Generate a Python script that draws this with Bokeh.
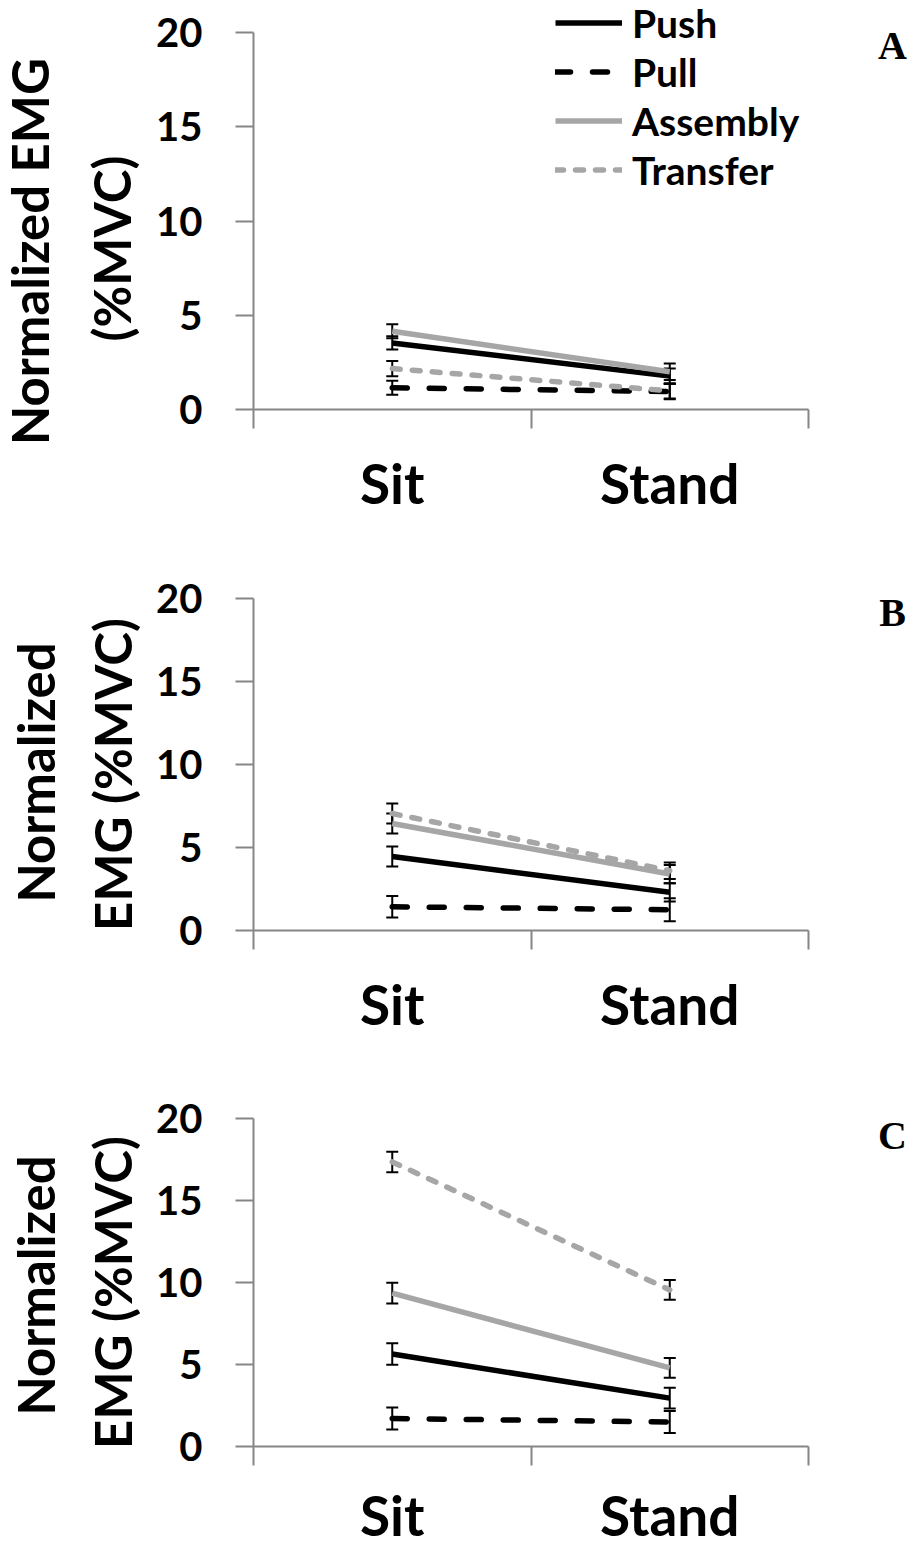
import numpy as np
from bokeh.plotting import figure
from bokeh.models import (Range1d, FixedTicker, ColumnDataSource, Whisker, TeeHead,
                          Legend, LegendItem, Label)
from bokeh.layouts import column, row
from bokeh.embed import file_html
from bokeh.resources import INLINE

# ---------------- data ----------------
conditions = ["Sit", "Stand"]
series_names = ["Push", "Pull", "Assembly", "Transfer"]
y_ticks = [0, 5, 10, 15, 20]

# Panel A
A_push = [3.53, 1.77]
A_push_err = [0.35, 0.40]
A_pull = [1.15, 0.95]
A_pull_err = [0.37, 0.40]
A_assembly = [4.15, 2.00]
A_assembly_err = [0.37, 0.44]
A_transfer = [2.17, 0.99]
A_transfer_err = [0.40, 0.40]

# Panel B
B_push = [4.46, 2.30]
B_push_err = [0.60, 0.55]
B_pull = [1.43, 1.25]
B_pull_err = [0.65, 0.70]
B_assembly = [6.45, 3.40]
B_assembly_err = [0.60, 0.55]
B_transfer = [7.05, 3.60]
B_transfer_err = [0.60, 0.50]

# Panel C
C_push = [5.64, 2.95]
C_push_err = [0.65, 0.63]
C_pull = [1.71, 1.49]
C_pull_err = [0.67, 0.67]
C_assembly = [9.35, 4.79]
C_assembly_err = [0.63, 0.60]
C_transfer = [17.35, 9.55]
C_transfer_err = [0.63, 0.60]

# ---------------- styles ----------------
BLACK = "#000000"
GRAY = "#A6A6A6"
AXIS = "#868686"
FONT = "Lato"
styles = {
    "Push": dict(color=BLACK, dash="solid", width=5.5, cap="butt"),
    "Pull": dict(color=BLACK, dash="15 22", width=5.5, cap="round"),
    "Assembly": dict(color=GRAY, dash="solid", width=5.5, cap="butt"),
    "Transfer": dict(color=GRAY, dash="8 12", width=5.5, cap="round"),
}

W = 917
LAB_W = 150        # width of the strip holding the y-axis title
AX_LEFT = 253      # canvas x of y axis
AX_RIGHT = 808     # canvas x of right end of x axis
Y_MAX = 20


def make_title_strip(lines, fig_top, fig_bottom):
    h = fig_bottom - fig_top
    s = figure(width=LAB_W, height=h, frame_width=LAB_W, frame_height=h,
               min_border=0, x_range=Range1d(0, LAB_W), y_range=Range1d(0, h),
               x_axis_location=None, y_axis_location=None,
               output_backend="svg", toolbar_location=None)
    s.outline_line_color = None
    s.grid.visible = False
    s.background_fill_color = "white"
    s.border_fill_color = "white"
    for txt, bx, cy in lines:
        s.add_layout(Label(x=bx, y=fig_bottom - cy, x_units="screen", y_units="screen",
                           text=txt, angle=np.pi / 2, text_align="center",
                           text_baseline="alphabetic", text_font=FONT,
                           text_font_style="bold", text_font_size="51px",
                           text_color="black"))
    return s


def make_panel(data, letter, fig_top, y20_px, y0_px, fig_bottom, letter_y, legend=False,
               cat_standoff=21):
    frame_h = y0_px - fig_top
    frame_w = W - AX_LEFT
    px_per_unit = (y0_px - y20_px) / Y_MAX
    x_per_px = len(conditions) / (AX_RIGHT - AX_LEFT)
    p = figure(width=W - LAB_W, height=fig_bottom - fig_top,
               frame_width=frame_w, frame_height=frame_h,
               min_border_left=AX_LEFT - LAB_W, min_border_right=0,
               min_border_top=0, min_border_bottom=fig_bottom - y0_px,
               x_range=Range1d(0, frame_w * x_per_px),
               y_range=Range1d(0, frame_h / px_per_unit),
               output_backend="svg", toolbar_location=None)
    p.outline_line_color = None
    p.xgrid.visible = False
    p.ygrid.visible = False
    p.background_fill_color = "white"
    p.border_fill_color = "white"

    x = np.arange(len(conditions)) + 0.5

    # y axis
    ya = p.yaxis[0]
    ya.bounds = (0, Y_MAX)
    ya.ticker = FixedTicker(ticks=y_ticks)
    ya.axis_line_color = AXIS
    ya.axis_line_width = 2
    ya.major_tick_line_color = AXIS
    ya.major_tick_line_width = 2
    ya.major_tick_out = 18
    ya.major_tick_in = 0
    ya.minor_tick_line_color = None
    ya.major_label_standoff = 33
    ya.major_label_text_font = FONT
    ya.major_label_text_font_style = "bold"
    ya.major_label_text_font_size = "40px"
    ya.major_label_text_color = "black"

    # x axis: boundary ticks as minor ticks, labels at category centres
    xa = p.xaxis[0]
    xa.bounds = (0, len(conditions))
    xa.ticker = FixedTicker(ticks=list(x), minor_ticks=list(range(len(conditions) + 1)))
    xa.major_label_overrides = {float(xi): c for xi, c in zip(x, conditions)}
    xa.axis_line_color = AXIS
    xa.axis_line_width = 2
    xa.major_tick_line_color = None
    xa.major_tick_out = 0
    xa.major_tick_in = 0
    xa.minor_tick_line_color = AXIS
    xa.minor_tick_line_width = 2
    xa.minor_tick_out = 19
    xa.minor_tick_in = 0
    xa.major_label_standoff = cat_standoff
    xa.major_label_text_font = FONT
    xa.major_label_text_font_style = "bold"
    xa.major_label_text_font_size = "55px"
    xa.major_label_text_color = "black"

    renderers = {}
    for name in series_names:
        vals, errs = data[name]
        st = styles[name]
        r = p.line(x, vals, line_color=st["color"], line_width=st["width"],
                   line_dash=st["dash"], line_cap=st["cap"])
        renderers[name] = r
    for name in series_names:
        vals, errs = data[name]
        src = ColumnDataSource(dict(base=x,
                                    upper=[v + e for v, e in zip(vals, errs)],
                                    lower=[v - e for v, e in zip(vals, errs)]))
        wh = Whisker(base="base", upper="upper", lower="lower", source=src,
                     dimension="height", line_color="black", line_width=2,
                     upper_head=TeeHead(size=12, line_color="black", line_width=2),
                     lower_head=TeeHead(size=12, line_color="black", line_width=2))
        p.add_layout(wh)

    # panel letter
    p.add_layout(Label(x=892 - AX_LEFT, y=y0_px - letter_y, x_units="screen", y_units="screen",
                       text=letter, text_align="center", text_baseline="middle",
                       text_font="Liberation Serif", text_font_style="bold",
                       text_font_size="40px", text_color="black"))

    if legend:
        items = [LegendItem(label=n, renderers=[renderers[n]]) for n in series_names]
        lg = Legend(items=items, location=(555 - AX_LEFT, y0_px - 194),
                    glyph_width=67, glyph_height=49, label_height=49, spacing=0,
                    padding=0, margin=0, label_standoff=10,
                    label_text_font=FONT, label_text_font_style="bold",
                    label_text_font_size="39px", label_text_color="black",
                    label_text_baseline="middle",
                    background_fill_alpha=0, border_line_alpha=0)
        p.add_layout(lg)
    return p


dataA = {"Push": (A_push, A_push_err), "Pull": (A_pull, A_pull_err),
         "Assembly": (A_assembly, A_assembly_err), "Transfer": (A_transfer, A_transfer_err)}
dataB = {"Push": (B_push, B_push_err), "Pull": (B_pull, B_pull_err),
         "Assembly": (B_assembly, B_assembly_err), "Transfer": (B_transfer, B_transfer_err)}
dataC = {"Push": (C_push, C_push_err), "Pull": (C_pull, C_pull_err),
         "Assembly": (C_assembly, C_assembly_err), "Transfer": (C_transfer, C_transfer_err)}

# (text, anchor x in the strip, centre y on the page)
tA = make_title_strip([("Normalized EMG", 29, 251), ("(%MVC)", 111, 248)], 0, 540)
tB = make_title_strip([("Normalized", 35, 772), ("EMG (%MVC)", 112, 774)], 540, 1060)
tC = make_title_strip([("Normalized", 35, 1285), ("EMG (%MVC)", 112, 1292)], 1060, 1549)

pA = make_panel(dataA, "A", 0, 32, 409, 540, 45, legend=True)
pB = make_panel(dataB, "B", 540, 598, 930, 1060, 612)
pC = make_panel(dataC, "C", 1060, 1118, 1446, 1549, 1135, cat_standoff=16)

layout = column(row(tA, pA, spacing=0), row(tB, pB, spacing=0), row(tC, pC, spacing=0), spacing=0)
open("out.html", "w").write(file_html(layout, INLINE))
